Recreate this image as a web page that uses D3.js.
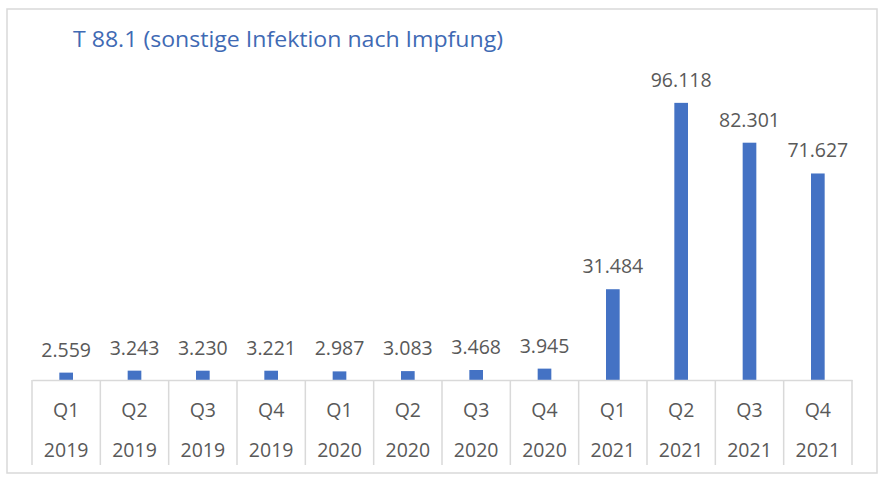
<!DOCTYPE html>
<html>
<head>
<meta charset="utf-8">
<script src="https://cdn.jsdelivr.net/npm/d3@7"></script>
<style>
  html, body { margin: 0; padding: 0; background: #fff; }
  svg { display: block; }
  text { font-family: "Open Sans", sans-serif; }
</style>
</head>
<body>
<svg id="chart" width="886" height="480"></svg>
<script>
const title = "T 88.1 (sonstige Infektion nach Impfung)";
const quarters = ["Q1","Q2","Q3","Q4","Q1","Q2","Q3","Q4","Q1","Q2","Q3","Q4"];
const years = ["2019","2019","2019","2019","2020","2020","2020","2020","2021","2021","2021","2021"];
const values = [2559, 3243, 3230, 3221, 2987, 3083, 3468, 3945, 31484, 96118, 82301, 71627];

const svg = d3.select("#chart");
const W = 886, H = 480;
const left = 32, right = 852, axisY = 380, plotTop = 34;
const grey = "#d9d9d9", textCol = "#595959", barCol = "#4472c4";

svg.append("rect").attr("width", W).attr("height", H).attr("fill", "#fff");
svg.append("rect")
  .attr("x", 7).attr("y", 9).attr("width", 870).attr("height", 464)
  .attr("fill", "none").attr("stroke", grey).attr("stroke-width", 1.5);

svg.append("text")
  .attr("x", 73).attr("y", 47)
  .attr("fill", "#3f6ab4")
  .attr("font-size", 22)
  .attr("textLength", 430).attr("lengthAdjust", "spacingAndGlyphs")
  .text(title);

const idx = d3.range(values.length);
const x = d3.scaleBand().domain(idx).range([left, right]).paddingInner(0).paddingOuter(0);
const y = d3.scaleLinear().domain([0, 120000]).range([axisY, plotTop]);
const barW = x.bandwidth() * 0.2;

const fmt = v => d3.format(",")(v).replace(/,/g, ".");

svg.append("g").selectAll("rect").data(idx).join("rect")
  .attr("x", i => x(i) + (x.bandwidth() - barW) / 2)
  .attr("y", i => y(values[i]))
  .attr("width", barW)
  .attr("height", i => axisY - y(values[i]))
  .attr("fill", barCol);

svg.append("g").selectAll("text").data(idx).join("text")
  .attr("x", i => x(i) + x.bandwidth() / 2)
  .attr("y", i => y(values[i]) - 16)
  .attr("text-anchor", "middle")
  .attr("fill", textCol)
  .attr("font-size", 19.5)
  .text(i => fmt(values[i]));

// category axis
const axisG = svg.append("g").attr("transform", `translate(0,${axisY})`);
const axis = d3.axisBottom(x).tickSize(0).tickFormat(i => quarters[i]);
axisG.call(axis);
axisG.select(".domain").attr("stroke", grey).attr("stroke-width", 1.5);
axisG.selectAll(".tick text")
  .attr("fill", textCol).attr("font-size", 19.5)
  .attr("font-family", "Open Sans, sans-serif")
  .attr("dy", null).attr("y", 37);

// year row
svg.append("g").selectAll("text").data(idx).join("text")
  .attr("x", i => x(i) + x.bandwidth() / 2)
  .attr("y", 457)
  .attr("text-anchor", "middle")
  .attr("fill", textCol)
  .attr("font-size", 19.5)
  .text(i => years[i]);

// dividers
const bounds = idx.map(i => x(i)).concat([right]);
svg.append("g").selectAll("line").data(bounds).join("line")
  .attr("x1", d => d).attr("x2", d => d)
  .attr("y1", axisY).attr("y2", 465)
  .attr("stroke", grey).attr("stroke-width", 1.5);
</script>
</body>
</html>
